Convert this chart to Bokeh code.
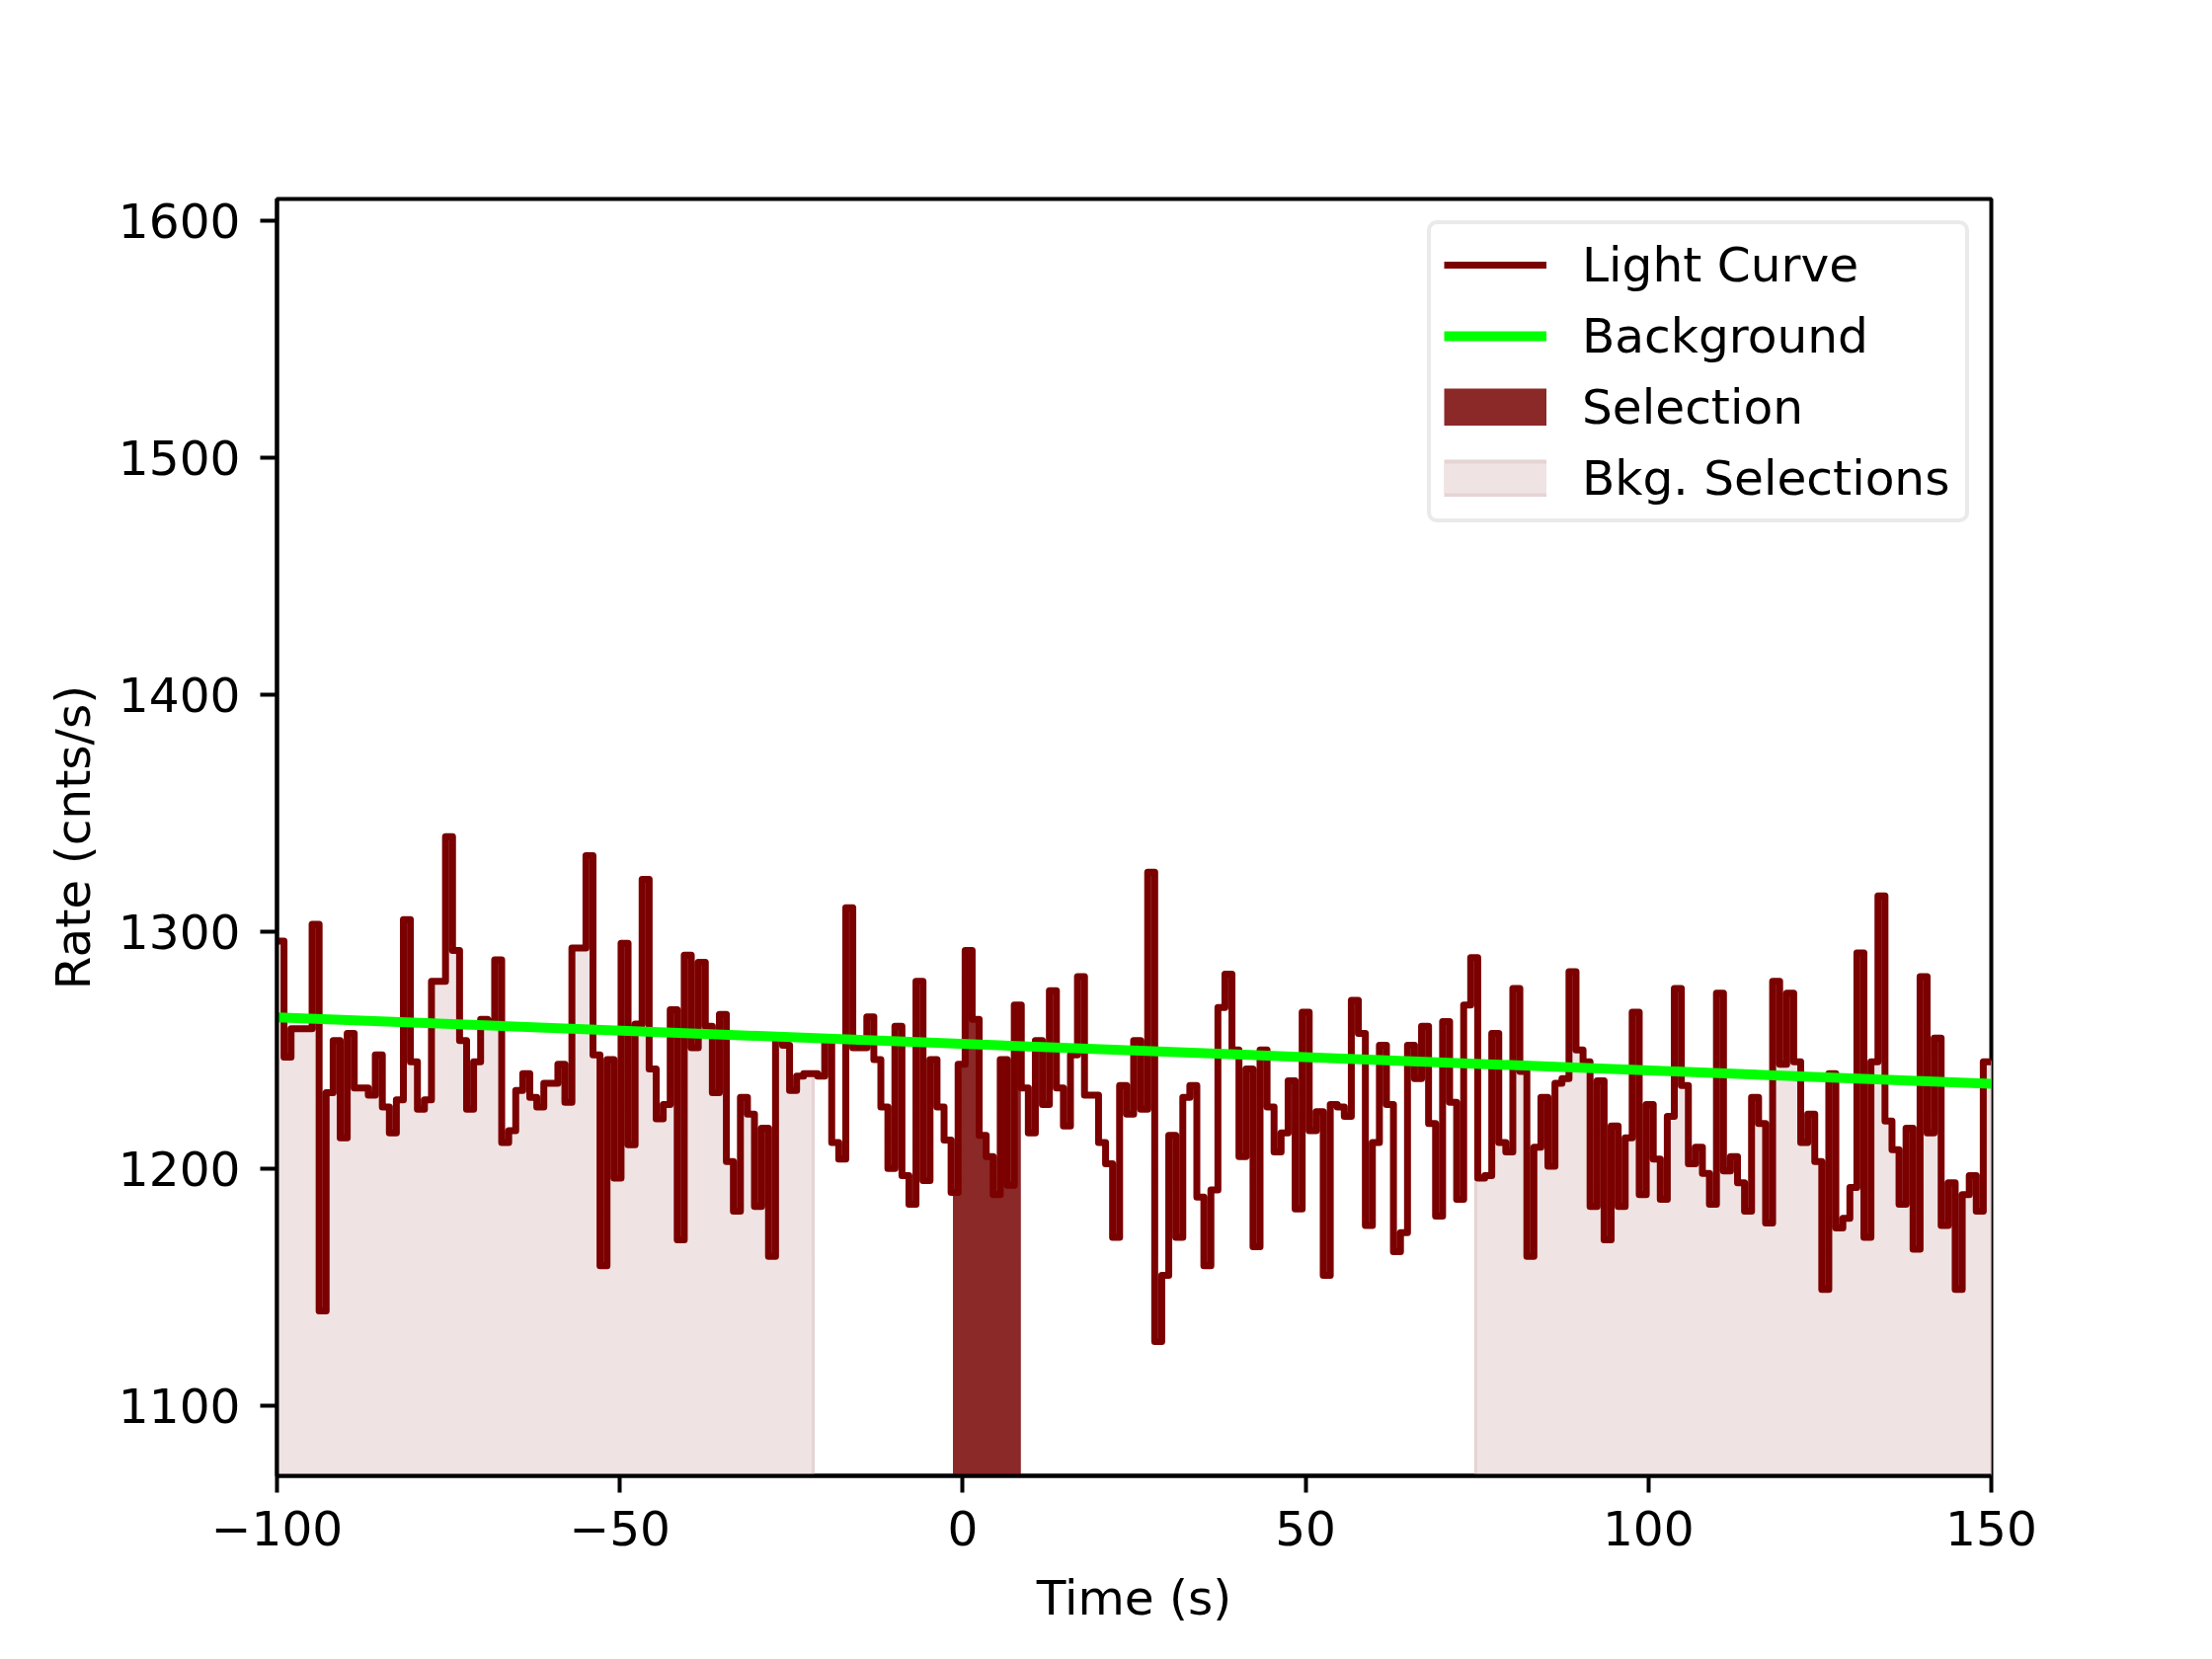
import numpy as np
from bokeh.plotting import figure
from bokeh.models import (Range1d, FixedTicker, CustomJSTickFormatter, Legend, LegendItem)
from bokeh.embed import file_html
from bokeh.resources import INLINE

# ---------------- data ----------------
t_start = -100.0
bin_width = 1.024
rate = [
    1296, 1247, 1259, 1259, 1259, 1303, 1140, 1232, 1254, 1213,
    1257, 1234, 1234, 1231, 1248, 1226, 1215, 1229, 1305, 1245,
    1225, 1229, 1279, 1279, 1340, 1292, 1254, 1225, 1245, 1263,
    1262, 1288, 1211, 1216, 1233, 1240, 1230, 1226, 1236, 1236,
    1244, 1228, 1293, 1293, 1332, 1248, 1159, 1246, 1196, 1295,
    1210, 1261, 1322, 1242, 1221, 1227, 1267, 1170, 1290, 1251,
    1287, 1260, 1232, 1265, 1203, 1182, 1230, 1223, 1184, 1217,
    1163, 1255, 1252, 1233, 1239, 1240, 1240, 1239, 1254, 1211,
    1204, 1310,
    1251, 1251, 1264, 1246, 1226, 1200, 1260, 1197, 1185, 1279,
    1195, 1246, 1226, 1212, 1190, 1244, 1292, 1263, 1214, 1205,
    1189, 1246, 1193, 1269, 1234, 1215, 1254, 1227, 1275, 1234,
    1218, 1248, 1281, 1231, 1231, 1211, 1202, 1171, 1235, 1223,
    1254,
    1225, 1325, 1127, 1155, 1214, 1171, 1230, 1235, 1188, 1159,
    1191, 1268, 1282, 1250, 1205, 1242, 1167, 1250, 1226, 1207,
    1215, 1237, 1183, 1266, 1216, 1224, 1155, 1227, 1226, 1222,
    1271, 1257, 1176, 1211, 1252, 1227, 1165, 1173, 1252, 1238,
    1260,
    1219, 1180, 1262, 1228, 1187, 1269, 1289, 1196, 1197, 1257,
    1211, 1207, 1276, 1241, 1163, 1209, 1230, 1201, 1236, 1238,
    1283, 1250, 1245, 1184, 1237, 1170, 1218, 1184, 1213, 1266,
    1189, 1227, 1204, 1187, 1222, 1276, 1235, 1202, 1209, 1198,
    1185,
    1274, 1199, 1205, 1194, 1182, 1230, 1219, 1177, 1279, 1244,
    1274, 1245, 1211, 1223, 1203, 1149, 1240, 1175, 1179, 1192,
    1291, 1171, 1245, 1315, 1220, 1208, 1185, 1217, 1166, 1281,
    1215, 1255, 1176, 1194, 1149, 1189, 1197, 1182, 1245,
]
background_t = [-100.0, 150.0]
background_rate = [1263.8, 1235.8]
selection = [-1.35, 8.40]
bkg_selections = [[-100.0, -21.8], [74.8, 150.0]]
x_limits = [-100.0, 150.0]
y_limits = [1070.4, 1609.0]
x_ticks = [-100, -50, 0, 50, 100, 150]
y_ticks = [1100, 1200, 1300, 1400, 1500, 1600]

# ---------------- derived ----------------
n = len(rate)
edges = t_start + bin_width * np.arange(n + 1)
edges[-1] = max(edges[-1], x_limits[1])

step_x, step_y = [], []
for i, v in enumerate(rate):
    step_x += [edges[i], edges[i + 1]]
    step_y += [v, v]


def step_poly(lo, hi, base):
    xs, ys = [lo], [base]
    for i, v in enumerate(rate):
        a, b = max(edges[i], lo), min(edges[i + 1], hi)
        if a < b:
            xs += [a, b]
            ys += [v, v]
    xs.append(hi)
    ys.append(base)
    return xs, ys


base = y_limits[0] - 60

FONT = "DejaVu Sans"
FS = "48.6px"
LC_COLOR = "#7b0000"
SEL_COLOR = "#8b2828"
BKG_FILL = "#f0e3e3"
BKG_EDGE = "#e6d3d3"
BG_COLOR = "#00ff00"

p = figure(width=2240, height=1680, output_backend="svg", toolbar_location=None,
           x_range=Range1d(*x_limits), y_range=Range1d(*y_limits),
           min_border_left=280, min_border_right=224, min_border_top=201,
           min_border_bottom=186)
p.background_fill_color = "white"
p.border_fill_color = "white"
p.xgrid.visible = False
p.ygrid.visible = False
p.outline_line_color = "black"
p.outline_line_width = 4

# bkg selections
bxs, bys = [], []
for lo, hi in bkg_selections:
    xs, ys = step_poly(lo, hi, base)
    bxs.append(xs)
    bys.append(ys)
p.patches(bxs, bys, fill_color=BKG_FILL, line_color=BKG_EDGE, line_width=3)

# selection
sx, sy = step_poly(selection[0], selection[1], base)
p.patch(sx, sy, fill_color=SEL_COLOR, line_color=SEL_COLOR, line_width=1)

# light curve
lc_r = p.line(step_x, step_y, line_color=LC_COLOR, line_width=7, line_join="round")

# background
bg_r = p.line(background_t, background_rate, line_color=BG_COLOR, line_width=10)

# legend swatches (not drawn in the data area: NaN data)
sel_sw = p.line([np.nan], [np.nan], line_color=SEL_COLOR, line_width=38, line_cap="butt")
bkg_sw_edge = p.line([np.nan], [np.nan], line_color=BKG_EDGE, line_width=38, line_cap="butt")
bkg_sw = p.line([np.nan], [np.nan], line_color=BKG_FILL, line_width=30, line_cap="butt")

fmt = CustomJSTickFormatter(code="""
    return tick < 0 ? '\u2212' + Math.abs(tick).toString() : tick.toString();
""")

for ax, ticks in ((p.xaxis[0], x_ticks), (p.yaxis[0], y_ticks)):
    ax.ticker = FixedTicker(ticks=ticks)
    ax.formatter = fmt
    ax.major_label_text_font = FONT
    ax.major_label_text_font_size = FS
    ax.major_label_text_color = "black"
    ax.axis_label_text_font = FONT
    ax.axis_label_text_font_size = FS
    ax.axis_label_text_font_style = "normal"
    ax.axis_label_text_color = "black"
    ax.major_tick_out = 17
    ax.major_tick_in = 0
    ax.major_tick_line_width = 4
    ax.major_tick_line_color = "black"
    ax.minor_tick_line_color = None
    ax.axis_line_width = 4
    ax.axis_line_color = "black"

p.xaxis.axis_label = "Time (s)"
p.yaxis.axis_label = "Rate (cnts/s)"
p.xaxis.major_label_standoff = 18
p.yaxis.major_label_standoff = 20
p.xaxis.axis_label_standoff = 22
p.yaxis.axis_label_standoff = 15

legend = Legend(items=[
    LegendItem(label="Light Curve", renderers=[lc_r]),
    LegendItem(label="Background", renderers=[bg_r]),
    LegendItem(label="Selection", renderers=[sel_sw]),
    LegendItem(label="Bkg. Selections", renderers=[bkg_sw_edge, bkg_sw]),
], location="top_right")
legend.margin = 22
legend.padding = 13
legend.spacing = 16
legend.glyph_width = 104
legend.glyph_height = 38
legend.label_standoff = 36
legend.label_width = 375
legend.label_text_font = FONT
legend.label_text_font_size = FS
legend.label_text_color = "black"
legend.border_line_color = "#d6d6d6"
legend.border_line_width = 4
legend.border_radius = 10
legend.background_fill_color = "white"
legend.background_fill_alpha = 0.8
p.add_layout(legend)

open("out.html", "w").write(file_html(p, INLINE))
